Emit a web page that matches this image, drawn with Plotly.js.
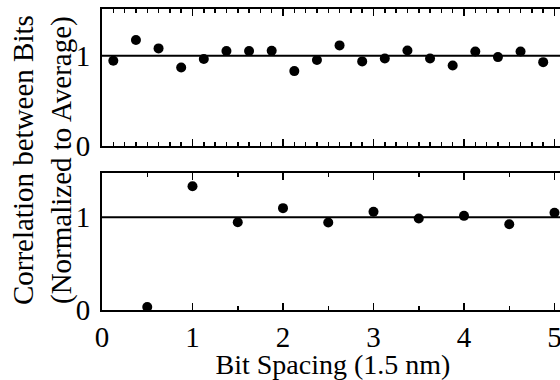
<!DOCTYPE html>
<html>
<head>
<meta charset="utf-8">
<script src="https://cdn.plot.ly/plotly-3.0.1.min.js"></script>
<style>
html,body{margin:0;padding:0;background:#fff;overflow:hidden;width:560px;height:380px;}
#chart{width:570px;height:380px;}
</style>
</head>
<body>
<div id="chart"></div>
<script>
// Top panel: correlation at every quarter bit step
var topSpacing = [0.125, 0.375, 0.625, 0.875, 1.125, 1.375, 1.625, 1.875, 2.125, 2.375,
                  2.625, 2.875, 3.125, 3.375, 3.625, 3.875, 4.125, 4.375, 4.625, 4.875];
var topCorrelation = [0.944, 1.175, 1.082, 0.870, 0.963, 1.052, 1.052, 1.056, 0.829, 0.952,
                      1.115, 0.937, 0.970, 1.059, 0.970, 0.892, 1.048, 0.985, 1.048, 0.929];
// Bottom panel: correlation at every half bit step
var bottomSpacing = [0.5, 1.0, 1.5, 2.0, 2.5, 3.0, 3.5, 4.0, 4.5, 5.0];
var bottomCorrelation = [0.032, 1.332, 0.946, 1.097, 0.942, 1.058, 0.986, 1.014, 0.924, 1.047];
var xTickVals = [0, 1, 2, 3, 4, 5];
var xTickText = ['0', '1', '2', '3', '4', '5'];
var yTickVals = [0, 1];
var yTickText = ['0', '1'];
var xTitle = 'Bit Spacing (1.5 nm)';
var yTitle = 'Correlation between Bits<br>(Normalized to Average)';
var referenceLevel = 1;

var FONT = 'Liberation Serif';
var marker = {color: '#000', size: 10, symbol: 'circle'};

var traces = [
  {x: topSpacing, y: topCorrelation, xaxis: 'x', yaxis: 'y', type: 'scatter', mode: 'markers',
   marker: marker, cliponaxis: false, hoverinfo: 'skip'},
  {x: bottomSpacing, y: bottomCorrelation, xaxis: 'x2', yaxis: 'y2', type: 'scatter', mode: 'markers',
   marker: marker, cliponaxis: false, hoverinfo: 'skip'}
];

function xAxis(anchor, labels, minorDtick) {
  return {
    anchor: anchor, range: [0, 5.105], domain: [0, 1],
    showline: true, linecolor: '#000', linewidth: 2, mirror: 'allticks',
    ticks: 'inside', ticklen: 7, tickwidth: 1.5, tickcolor: '#000',
    tickmode: 'array', tickvals: xTickVals, ticktext: xTickText, showticklabels: labels,
    minor: {dtick: minorDtick, tick0: 0, ticks: 'inside', ticklen: 4, tickwidth: 1.5, tickcolor: '#000', showgrid: false},
    showgrid: false, zeroline: false,
    tickfont: {family: FONT, size: 29, color: '#000'}
  };
}
function yAxis(anchor, domain, range) {
  return {
    anchor: anchor, domain: domain, range: range,
    showline: true, linecolor: '#000', linewidth: 2, mirror: false,
    ticks: '', tickmode: 'array', tickvals: yTickVals, ticktext: yTickText, ticklabelstandoff: 4,
    showgrid: false, zeroline: false,
    tickfont: {family: FONT, size: 29, color: '#000'}
  };
}

var xa2 = xAxis('y2', true, 0.5);
xa2.title = {text: xTitle, font: {family: FONT, size: 28, color: '#000'}, standoff: 2};

var layout = {
  width: 570, height: 380,
  margin: {l: 102, r: 6, t: 9, b: 70},
  paper_bgcolor: '#fff', plot_bgcolor: '#fff',
  font: {family: FONT, color: '#000', size: 28},
  showlegend: false,
  xaxis: xAxis('y', false, 0.125),
  yaxis: yAxis('x', [0.546, 1], [0, 1.52]),
  xaxis2: xa2,
  yaxis2: yAxis('x2', [0, 0.455], [0, 1.475]),
  shapes: [
    {type: 'line', xref: 'x domain', yref: 'y', x0: 0, x1: 1, y0: referenceLevel, y1: referenceLevel,
     line: {color: '#000', width: 2}},
    {type: 'line', xref: 'x2 domain', yref: 'y2', x0: 0, x1: 1, y0: referenceLevel, y1: referenceLevel,
     line: {color: '#000', width: 2}}
  ],
  annotations: [
    {text: yTitle, xref: 'paper', yref: 'paper', x: -60 / 462, y: 0.498,
     xanchor: 'center', yanchor: 'middle', textangle: -90, showarrow: false,
     font: {family: FONT, size: 29, color: '#000'}}
  ]
};

Plotly.newPlot('chart', traces, layout, {staticPlot: true, displayModeBar: false});
</script>
</body>
</html>
